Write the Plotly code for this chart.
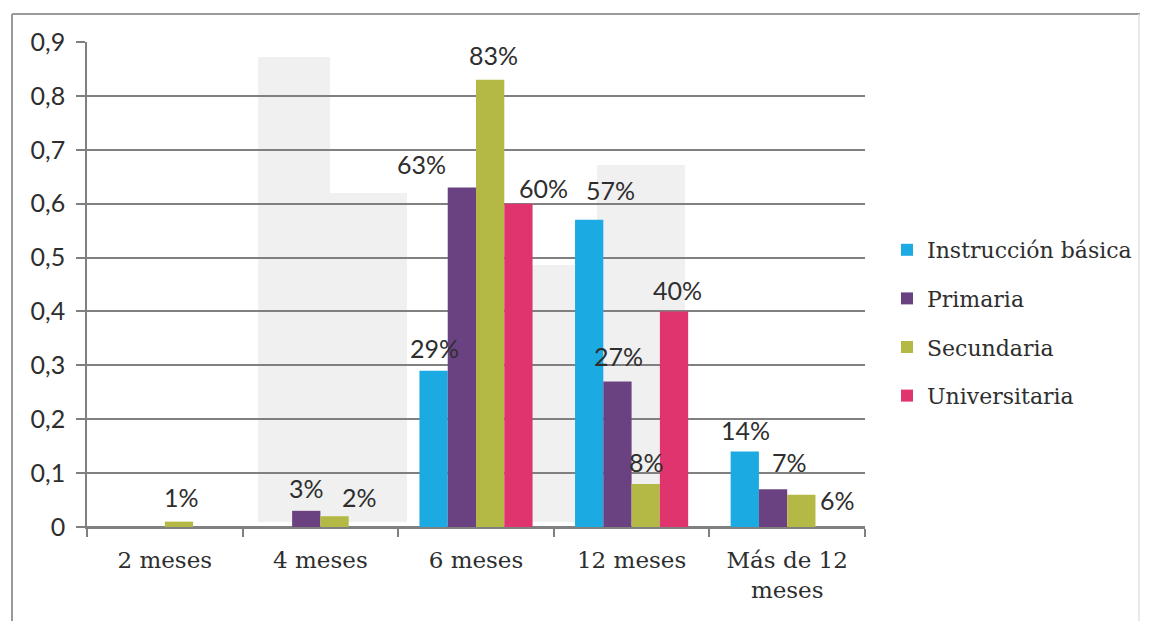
import plotly.graph_objects as go

# ---- data -------------------------------------------------------------
categories = ["2 meses", "4 meses", "6 meses", "12 meses", "Más de 12<br>meses"]
series_names = ["Instrucción básica", "Primaria", "Secundaria", "Universitaria"]

instruccion_basica = [0.00, 0.00, 0.29, 0.57, 0.14]
primaria = [0.00, 0.03, 0.63, 0.27, 0.07]
secundaria = [0.01, 0.02, 0.83, 0.08, 0.06]
universitaria = [0.00, 0.00, 0.60, 0.40, 0.00]

y_tick_values = [0, 0.1, 0.2, 0.3, 0.4, 0.5, 0.6, 0.7, 0.8, 0.9]
y_tick_labels = ["0", "0,1", "0,2", "0,3", "0,4", "0,5", "0,6", "0,7", "0,8", "0,9"]

# ---- style ------------------------------------------------------------
colors = ["#1CAAE2", "#6B4281", "#B4B845", "#E0346F"]
text_color = "#2E2E2E"
grid_color = "#808080"

W, H = 1151, 621
PLOT_L, PLOT_R, PLOT_T, PLOT_B = 87, 865, 42, 527
BARGAP = 0.273

# label nudges (px) per series / category: (dx, dy) from the bar top centre
label_nudge = [
    [(0, 0), (0, 0), (1, 23), (21, 30), (1, 22)],
    [(0, 0), (0, 23), (-40, 24), (1, 26), (16, 27)],
    [(3, 25), (25, 19), (3, 25), (1, 22), (36, -5)],
    [(0, 0), (0, 0), (25, 16), (3, 21), (0, 0)],
]


def px_x(px):
    return (px - PLOT_L) / (PLOT_R - PLOT_L)


def px_y(py):
    return (PLOT_B - py) / (PLOT_B - PLOT_T)


all_values = [instruccion_basica, primaria, secundaria, universitaria]

fig = go.Figure()
for name, vals, col in zip(series_names, all_values, colors):
    fig.add_trace(go.Bar(
        x=categories, y=vals, name=name, legendgroup=name,
        marker=dict(color=col, line=dict(width=0)),
    ))

# value labels
bar_px = (PLOT_R - PLOT_L) / len(categories) * (1 - BARGAP) / len(series_names)
annotations = []
for i, vals in enumerate(all_values):
    for j, v in enumerate(vals):
        if v <= 0:
            continue
        dx, dy = label_nudge[i][j]
        annotations.append(dict(
            x=categories[j], y=v, xref="x", yref="y",
            text=f"{round(v * 100)}%", showarrow=False,
            xanchor="center", yanchor="middle",
            xshift=(i - 1.5) * bar_px + dx, yshift=dy,
            font=dict(family="Lato", size=25, color=text_color),
        ))

# soft grey backdrop panels and outer frame
shapes = []
for x0, x1, y0, y1 in [(258, 330, 57, 193), (258, 407, 193, 522),
                       (523, 597, 265, 522), (597, 685, 165, 522)]:
    shapes.append(dict(type="rect", xref="paper", yref="paper",
                       x0=px_x(x0), x1=px_x(x1), y0=px_y(y1), y1=px_y(y0),
                       fillcolor="#F0F0F0", line=dict(width=0), layer="below"))
frame = dict(type="line", xref="paper", yref="paper", layer="above")
shapes.append({**frame, "x0": px_x(12), "x1": px_x(12), "y0": px_y(621), "y1": px_y(14),
               "line": dict(color="#9A9A9A", width=2)})
shapes.append({**frame, "x0": px_x(12), "x1": px_x(1140), "y0": px_y(14), "y1": px_y(14),
               "line": dict(color="#9A9A9A", width=2)})
shapes.append({**frame, "x0": px_x(1139), "x1": px_x(1139), "y0": px_y(621), "y1": px_y(14),
               "line": dict(color="#E2E2E2", width=1.5)})

fig.update_layout(
    width=W, height=H,
    margin=dict(l=PLOT_L, r=W - PLOT_R, t=PLOT_T, b=H - PLOT_B),
    paper_bgcolor="white", plot_bgcolor="white",
    barmode="group", bargap=BARGAP, bargroupgap=0,
    showlegend=True,
    legend=dict(
        x=px_x(887), y=px_y(323), xanchor="left", yanchor="middle",
        traceorder="grouped", tracegroupgap=17,
        font=dict(family="DejaVu Serif", size=22, color=text_color),
        bgcolor="rgba(0,0,0,0)",
    ),
    annotations=annotations,
    shapes=shapes,
)

fig.update_xaxes(
    showgrid=False, showline=True, linecolor=grid_color, linewidth=1.5,
    ticks="outside", tickson="boundaries", ticklen=8, tickcolor=grid_color, tickwidth=1.5,
    tickfont=dict(family="DejaVu Serif", size=23, color=text_color),
    ticklabelstandoff=12,
    fixedrange=True,
)
fig.update_yaxes(
    range=[0, 0.9], tickvals=y_tick_values, ticktext=y_tick_labels,
    showgrid=True, gridcolor=grid_color, gridwidth=1.5,
    zeroline=True, zerolinecolor=grid_color, zerolinewidth=1.5,
    showline=True, linecolor=grid_color, linewidth=1.5,
    ticks="outside", ticklen=9, tickcolor=grid_color, tickwidth=1.5,
    tickfont=dict(family="Lato", size=25, color=text_color),
    ticklabelstandoff=6,
    fixedrange=True,
)

fig.write_html("out.html")
